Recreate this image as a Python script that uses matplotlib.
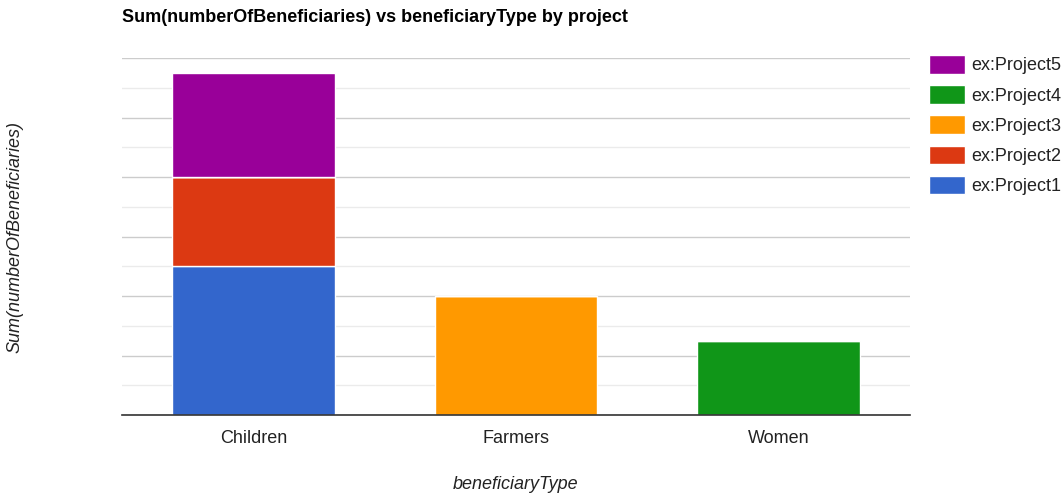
import matplotlib
matplotlib.use("Agg")
import matplotlib.pyplot as plt
import numpy as np

plt.rcParams['font.family'] = ['Liberation Sans', 'DejaVu Sans']

# data (major gridline = 20)
categories = ["Children", "Farmers", "Women"]
projects = ["ex:Project1", "ex:Project2", "ex:Project3", "ex:Project4", "ex:Project5"]
project1 = [50, 0, 0]
project2 = [30, 0, 0]
project3 = [0, 40, 0]
project4 = [0, 0, 25]
project5 = [35, 0, 0]
series = [project1, project2, project3, project4, project5]
colors = ["#3366cc", "#dc3912", "#ff9900", "#109618", "#990099"]

fig = plt.figure(figsize=(10.64, 4.95), dpi=100)
ax = fig.add_axes([122 / 1064, 80 / 495, 788 / 1064, 357 / 495])

x = np.arange(len(categories))
bottom = np.zeros(len(categories))
bars = []
for name, vals, c in zip(projects, series, colors):
    vals = np.array(vals, dtype=float)
    b = ax.bar(x, vals, 0.62, bottom=bottom, color=c, edgecolor="white",
               linewidth=1.0, label=name, zorder=3)
    bars.append(b)
    bottom += vals

ax.set_xlim(-0.5, 2.5)
ax.set_ylim(0, 120)
ax.set_yticks(np.arange(0, 121, 20))
ax.set_yticks(np.arange(10, 120, 20), minor=True)
ax.grid(axis="y", which="major", color="#cccccc", linewidth=1, zorder=0)
ax.grid(axis="y", which="minor", color="#ebebeb", linewidth=1, zorder=0)
ax.tick_params(axis="y", which="both", left=False, labelleft=False)
ax.tick_params(axis="x", length=0, labelsize=13, labelcolor="#222222", pad=11)
ax.set_xticks(x)
ax.set_xticklabels(categories)
for s in ["top", "right", "left"]:
    ax.spines[s].set_visible(False)
ax.spines["bottom"].set_color("#333333")
ax.spines["bottom"].set_linewidth(1.2)
ax.spines["bottom"].set_zorder(4)

ax.set_xlabel("beneficiaryType", fontsize=13, style="italic", color="#222222", labelpad=21)
fig.text(15 / 1064, 1 - 237 / 495, "Sum(numberOfBeneficiaries)", rotation=90,
         fontsize=13, style="italic", color="#222222", ha="center", va="center")
fig.text(122 / 1064, 1 - 18 / 495, "Sum(numberOfBeneficiaries) vs beneficiaryType by project",
         fontsize=13, fontweight="bold", color="#000000", ha="left", va="center")

handles = [b.patches[0] for b in bars][::-1]
labels = projects[::-1]
leg = fig.legend(handles, labels, loc="upper left", bbox_to_anchor=(929 / 1064, 1 - 55 / 495),
                 frameon=False, fontsize=13, handlelength=2.0, handleheight=1.2,
                 labelspacing=0.6, handletextpad=0.35, borderaxespad=0, borderpad=0)
for t in leg.get_texts():
    t.set_color("#222222")

fig.savefig("out.png", dpi=100)
